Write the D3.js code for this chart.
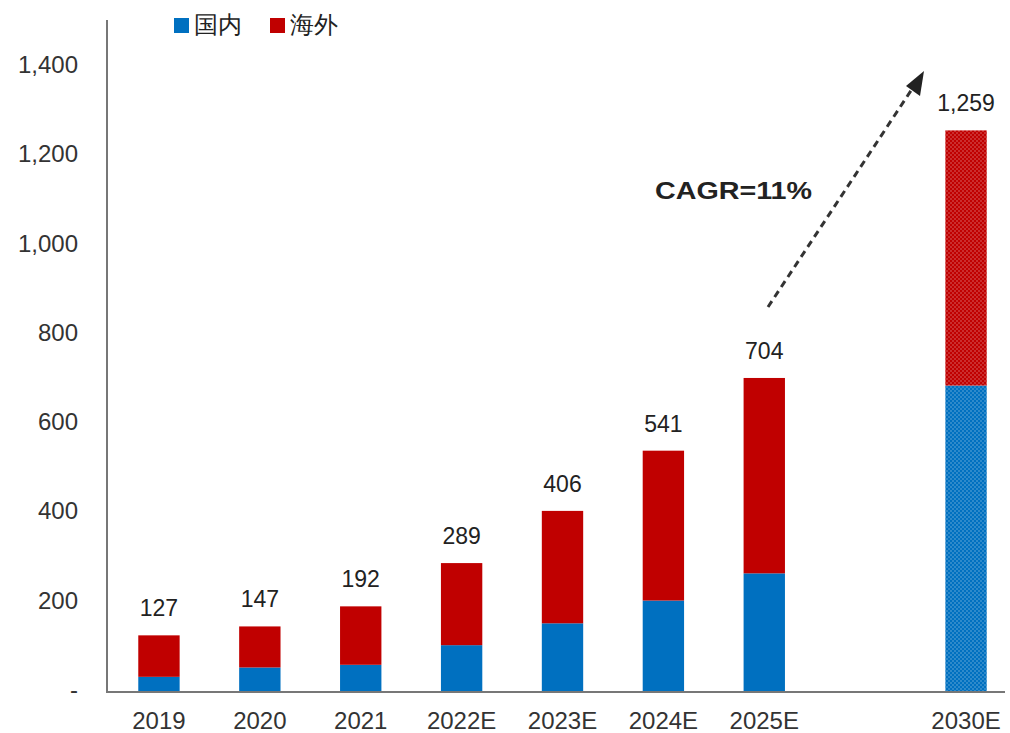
<!DOCTYPE html>
<html>
<head>
<meta charset="utf-8">
<script src="https://cdn.jsdelivr.net/npm/d3@7"></script>
<style>
  body { margin: 0; background: #fff; }
  text { font-family: "Liberation Sans", Arial, sans-serif; }
</style>
</head>
<body>
<div id="chart"></div>
<script>
const categories = ['2019', '2020', '2021', '2022E', '2023E', '2024E', '2025E', '', '2030E'];
const domestic = [34, 55, 61, 105, 154, 205, 266, null, 687];
const overseas = [93, 92, 131, 184, 252, 336, 438, null, 572];
const totals = [127, 147, 192, 289, 406, 541, 704, null, 1259];
const yTicks = [0, 200, 400, 600, 800, 1000, 1200, 1400];
const seriesNames = ['国内', '海外'];
const colors = ['#0070C0', '#C00000'];

const width = 1010, height = 733;
const margin = {top: 20, right: 5, bottom: 41, left: 107};

const svg = d3.select('#chart').append('svg')
  .attr('width', width)
  .attr('height', height);

// dotted texture for the 2030 bar
const defs = svg.append('defs');
colors.forEach((c, i) => {
  const p = defs.append('pattern')
    .attr('id', 'dots' + i)
    .attr('width', 4).attr('height', 4)
    .attr('patternUnits', 'userSpaceOnUse');
  p.append('rect').attr('width', 4).attr('height', 4).attr('fill', c);
  p.append('circle').attr('cx', 1).attr('cy', 1).attr('r', 0.7).attr('fill', '#fff').attr('opacity', 0.5);
  p.append('circle').attr('cx', 3).attr('cy', 3).attr('r', 0.7).attr('fill', '#fff').attr('opacity', 0.5);
});

const x = d3.scaleBand()
  .domain(categories.map((d, i) => i))
  .range([margin.left, 1018])
  .paddingInner(0.59)
  .paddingOuter(0.31);

const y = d3.scaleLinear()
  .domain([0, 1400])
  .range([692, 67.5]);

const rows = categories.map((c, i) => ({i, c, dom: domestic[i], ovs: overseas[i], tot: totals[i]}))
  .filter(d => d.dom != null);

const stack = d3.stack().keys(['dom', 'ovs'])(rows);

stack.forEach((layer, k) => {
  svg.append('g').selectAll('rect')
    .data(layer)
    .enter().append('rect')
      .attr('x', d => x(d.data.i))
      .attr('width', x.bandwidth())
      .attr('y', d => y(d[1]))
      .attr('height', d => y(d[0]) - y(d[1]))
      .attr('fill', d => d.data.c === '2030E' ? `url(#dots${k})` : colors[k]);
});

// value labels
svg.append('g').selectAll('text')
  .data(rows)
  .enter().append('text')
    .attr('x', d => x(d.i) + x.bandwidth() / 2)
    .attr('y', d => y(d.tot) - 19)
    .attr('text-anchor', 'middle')
    .attr('font-size', 23)
    .attr('fill', '#222')
    .text(d => d3.format(',')(d.tot));

// y axis
const yAxis = d3.axisLeft(y)
  .tickValues(yTicks)
  .tickSize(0)
  .tickPadding(29)
  .tickFormat(d => d === 0 ? '-' : d3.format(',')(d));

const gy = svg.append('g')
  .attr('transform', `translate(${margin.left},0)`)
  .call(yAxis);
gy.select('.domain').remove();
gy.selectAll('text')
  .attr('font-size', 24)
  .attr('dy', '0.22em')
  .attr('fill', '#333')
  .attr('font-family', '"Liberation Sans", Arial, sans-serif');

// x axis
const xAxis = d3.axisBottom(x)
  .tickSize(0)
  .tickPadding(20)
  .tickFormat(i => categories[i]);

const gx = svg.append('g')
  .attr('transform', `translate(0,${y(0)})`)
  .call(xAxis);
gx.select('.domain').remove();
gx.selectAll('text')
  .attr('font-size', 24)
  .attr('fill', '#333')
  .attr('font-family', '"Liberation Sans", Arial, sans-serif');

// axis lines
svg.append('path')
  .attr('d', `M${margin.left},${margin.top}V${y(0)}H${width - margin.right}`)
  .attr('fill', 'none')
  .attr('stroke', '#777')
  .attr('stroke-width', 2);

// legend
const legend = svg.append('g').attr('transform', 'translate(174,0)');
const items = legend.selectAll('g')
  .data(seriesNames)
  .enter().append('g')
    .attr('transform', (d, i) => `translate(${i * 96},0)`);
items.append('rect')
  .attr('width', 15).attr('height', 15).attr('y', 18)
  .attr('fill', (d, i) => colors[i]);
items.append('text')
  .attr('x', 20).attr('y', 33)
  .attr('font-size', 24)
  .attr('fill', '#222')
  .attr('font-family', '"Noto Sans CJK SC", sans-serif')
  .text(d => d);

// CAGR arrow
svg.append('line')
  .attr('x1', 768).attr('y1', 307)
  .attr('x2', 918).attr('y2', 80)
  .attr('stroke', '#333')
  .attr('stroke-width', 3)
  .attr('stroke-dasharray', '7,5');

svg.append('path')
  .attr('d', 'M924,71 L906,86 L920,96 Z')
  .attr('fill', '#222');

svg.append('text')
  .attr('x', 655).attr('y', 199)
  .attr('font-size', 23)
  .attr('font-weight', 'bold')
  .attr('fill', '#222')
  .attr('textLength', 157)
  .attr('lengthAdjust', 'spacingAndGlyphs')
  .text('CAGR=11%');
</script>
</body>
</html>
